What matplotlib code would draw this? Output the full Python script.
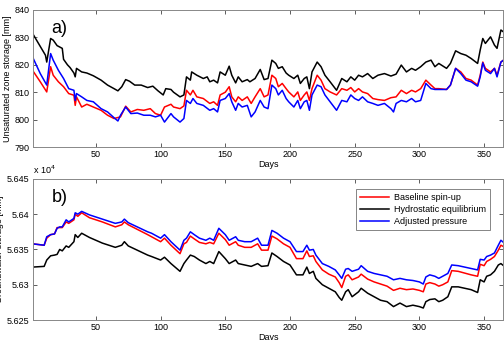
import matplotlib
matplotlib.use("Agg")
import matplotlib.pyplot as plt

plt.rcParams["font.family"] = ["Liberation Sans", "DejaVu Sans"]

# ---- panel a) unsaturated zone storage [mm] ----
days_a_black = [1, 11, 12, 15, 17, 20, 24, 25, 28, 30, 33, 34, 35, 39, 43, 48, 54, 59, 64, 67,
                70, 73, 76, 80, 85, 90, 94, 98, 102, 104, 108, 110, 115, 118, 120, 123, 124, 128, 133, 136,
                138, 141, 144, 146, 150, 153, 155, 158, 160, 163, 167, 169, 173, 177, 180, 183, 186, 189, 191, 194,
                197, 199, 203, 206, 208, 211, 213, 215, 217, 221, 224, 227, 231, 236, 240, 244, 247, 250, 253, 256,
                260, 264, 268, 273, 278, 282, 286, 290, 294, 297, 301, 305, 309, 312, 315, 321, 324, 328, 332, 336,
                340, 345, 347, 349, 351, 355, 358, 360, 363, 365]
uz_black = [831.5, 823.5, 821, 829.6, 829, 827, 826, 822, 820, 819, 817, 815.6, 818.7, 817.4, 817, 816, 814.4, 812.6, 811.3, 810.5,
            812, 814.6, 814, 812.6, 812.6, 811.7, 812.2, 810.5, 809, 811.3, 811, 810, 808.3, 809, 815.6, 814.4, 817.4, 816.2, 815, 815.6,
            813.8, 814.4, 813.4, 817.4, 816.2, 819.5, 816.2, 813.4, 815.6, 813.8, 814.6, 813.8, 815, 818.3, 814.6, 815, 821.7, 820.5, 818.7, 819.3,
            817, 816.2, 815, 816.2, 813.2, 815, 815.6, 811.3, 817.4, 821, 819.3, 816.2, 813.8, 810.7, 815, 813.8, 815.6, 814.4, 816.2, 815.6,
            816.8, 815, 816.2, 816.8, 815.9, 816.6, 819.9, 817.4, 818.7, 818, 819.3, 821, 821.7, 819.3, 820.5, 818.7, 820.5, 825.1, 824.1, 823.5,
            822.3, 820.5, 825.4, 829.6, 827.8, 830.2, 827.2, 826, 832.7, 832]

days_a_red = [1, 7, 12, 15, 17, 21, 25, 29, 33, 34, 35, 39, 43, 48, 54, 59, 64, 69, 73, 77,
              82, 87, 92, 96, 100, 103, 108, 110, 115, 118, 120, 123, 125, 128, 133, 138, 141, 144, 146, 150,
              153, 155, 158, 160, 163, 167, 170, 173, 177, 180, 183, 186, 189, 191, 194, 197, 199, 203, 206, 208,
              211, 213, 215, 217, 221, 224, 227, 231, 236, 240, 244, 247, 250, 253, 256, 260, 264, 268, 273, 278,
              282, 286, 290, 294, 297, 301, 305, 309, 312, 315, 321, 324, 328, 332, 336, 340, 345, 347, 349, 351,
              355, 358, 360, 363, 365]
uz_red = [818, 813.8, 810.1, 819.3, 816.2, 813.8, 812, 809.5, 808.9, 805.2, 808.3, 804.6, 805.6, 804.6, 803.4, 801.6, 800.4, 801, 804.9, 802.8,
          803.7, 803.4, 804, 802.2, 801.6, 804.6, 805.6, 804.6, 804, 805, 810.7, 809, 810.7, 808.3, 807.7, 805.9, 806.5, 805.2, 809, 810,
          812, 808.3, 806.5, 808.3, 807, 808.3, 805.9, 808.3, 811.3, 808.3, 809, 816.2, 815, 812, 813.2, 811.3, 810.1, 808.3, 810.1, 807,
          809, 810.1, 807, 811.3, 816.2, 814.4, 811.3, 810.1, 809, 811.3, 810.7, 811.7, 810.1, 811.3, 810.1, 809.5, 807.7, 807.3, 807, 808,
          808.3, 810.7, 809.5, 810.7, 810.1, 811.3, 814.4, 812.6, 811.3, 811.3, 811, 812.6, 818.7, 817.4, 815, 814.4, 812.6, 816.2, 821, 818.7,
          817.4, 818.7, 816.2, 821, 821.7]

days_a_blue = [1, 7, 12, 15, 17, 21, 25, 29, 33, 34, 35, 39, 43, 48, 54, 59, 64, 67, 69, 73,
               77, 82, 87, 92, 96, 100, 103, 108, 110, 115, 118, 120, 123, 125, 128, 133, 138, 141, 144, 146,
               150, 153, 155, 158, 160, 163, 167, 170, 173, 177, 180, 183, 186, 189, 191, 194, 197, 199, 203, 206,
               208, 211, 213, 215, 217, 221, 224, 227, 231, 236, 240, 244, 247, 250, 253, 256, 260, 264, 268, 273,
               278, 280, 282, 286, 290, 294, 297, 301, 305, 309, 312, 315, 321, 324, 328, 332, 336, 340, 345, 347,
               349, 351, 355, 358, 360, 363, 365]
uz_blue = [822.9, 816.8, 812.6, 824.1, 821.7, 818, 815, 811.3, 810.7, 807, 809.5, 808.3, 807, 806.5, 804, 802.8, 800.7, 799.5, 801.6, 804.6,
           802.2, 802.4, 801.6, 801.6, 801, 801.6, 799.1, 802.2, 801, 799.1, 800.4, 807, 805.9, 807.7, 805.9, 805.2, 803.4, 804, 802.8, 807,
           807.7, 809.5, 806.5, 803.4, 805.9, 804.6, 805.2, 801, 802.8, 807, 804.6, 804, 812.6, 811.3, 809, 810.7, 807.7, 806.5, 804.6, 807,
           804, 806.5, 807, 803.4, 809, 812.6, 812, 809, 806.5, 803.4, 807, 806.5, 809, 807.7, 807, 808.3, 806.5, 805.9, 805.2, 805.9,
           804, 802.8, 805.9, 807, 806.5, 807.7, 806.5, 807, 813.2, 811.3, 811, 811, 811, 812.6, 818.7, 816.8, 814.4, 813.8, 812.2, 815.6,
           820.7, 818, 816.8, 818.7, 815.6, 821, 821.7]

# ---- panel b) groundwater storage [mm x 10^4] ----
days_b = [1, 10, 12, 15, 18, 20, 22, 24, 27, 29, 33, 34, 36, 39, 45, 55, 65, 70, 72, 75,
          90, 93, 100, 103, 108, 115, 118, 120, 123, 126, 130, 135, 138, 141, 145, 150, 153, 158, 160, 165,
          170, 175, 178, 183, 186, 190, 195, 200, 205, 210, 213, 215, 218, 220, 225, 230, 235, 238, 240, 243,
          245, 248, 253, 255, 260, 265, 270, 275, 280, 285, 290, 295, 300, 303, 305, 308, 312, 315, 318, 322,
          325, 330, 340, 345, 347, 350, 352, 355, 358, 361, 363, 365]
gw_black = [5.6325, 5.6326, 5.6335, 5.6341, 5.6342, 5.6343, 5.6350, 5.6348, 5.6355, 5.6353,
            5.6361, 5.6371, 5.6367, 5.6373, 5.6367, 5.6359, 5.6353, 5.6356, 5.6361, 5.6355,
            5.6342, 5.6340, 5.6335, 5.6339, 5.6330, 5.6319, 5.6330, 5.6335, 5.6342, 5.6340,
            5.6335, 5.6330, 5.6333, 5.6330, 5.6347, 5.6337, 5.6330, 5.6335, 5.6330, 5.6328,
            5.6326, 5.6330, 5.6326, 5.6327, 5.6345, 5.6340, 5.6333, 5.6328, 5.6314, 5.6314,
            5.6325, 5.6316, 5.6319, 5.6309, 5.6300, 5.6295, 5.6290, 5.6282, 5.6278, 5.6290,
            5.6293, 5.6283, 5.6290, 5.6295, 5.6288, 5.6283, 5.6278, 5.6276, 5.6269, 5.6274,
            5.6269, 5.6271, 5.6269, 5.6267, 5.6276, 5.6279, 5.6280, 5.6276, 5.6278, 5.6283,
            5.6297, 5.6297, 5.6293, 5.6289, 5.6307, 5.6304, 5.6312, 5.6314, 5.6319, 5.6328,
            5.6330, 5.6327]
gw_red = [5.6358, 5.6356, 5.6366, 5.6371, 5.6372, 5.6381, 5.6381, 5.6381, 5.6389, 5.6387,
          5.6392, 5.6400, 5.6397, 5.6402, 5.6395, 5.6389, 5.6382, 5.6385, 5.6389, 5.6385,
          5.6371, 5.6368, 5.6361, 5.6366, 5.6356, 5.6344, 5.6358, 5.6360, 5.6369, 5.6365,
          5.6360, 5.6358, 5.6360, 5.6358, 5.6373, 5.6364, 5.6356, 5.6361, 5.6356, 5.6353,
          5.6353, 5.6358, 5.6349, 5.6349, 5.6369, 5.6365, 5.6358, 5.6353, 5.6337, 5.6337,
          5.6348, 5.6340, 5.6341, 5.6333, 5.6321, 5.6315, 5.6311, 5.6303, 5.6296, 5.6312,
          5.6314, 5.6307, 5.6311, 5.6315, 5.6308, 5.6304, 5.6301, 5.6298, 5.6292, 5.6295,
          5.6293, 5.6294, 5.6292, 5.6290, 5.6301, 5.6303, 5.6301, 5.6298, 5.6300, 5.6304,
          5.6320, 5.6319, 5.6314, 5.6312, 5.6329, 5.6327, 5.6333, 5.6336, 5.6340, 5.6349,
          5.6356, 5.6354]
gw_blue = [5.6358, 5.6356, 5.6368, 5.6371, 5.6372, 5.6380, 5.6382, 5.6382, 5.6392, 5.6389,
           5.6394, 5.6402, 5.6400, 5.6404, 5.6399, 5.6393, 5.6387, 5.6389, 5.6393, 5.6388,
           5.6375, 5.6373, 5.6366, 5.6371, 5.6361, 5.6349, 5.6363, 5.6366, 5.6375, 5.6371,
           5.6366, 5.6363, 5.6366, 5.6363, 5.6380, 5.6371, 5.6363, 5.6368, 5.6363, 5.6361,
           5.6361, 5.6366, 5.6356, 5.6356, 5.6377, 5.6373, 5.6366, 5.6361, 5.6347, 5.6347,
           5.6356, 5.6349, 5.6350, 5.6342, 5.6330, 5.6326, 5.6321, 5.6314, 5.6309, 5.6322,
           5.6323, 5.6319, 5.6322, 5.6327, 5.6319, 5.6316, 5.6314, 5.6312, 5.6307, 5.6309,
           5.6307, 5.6306, 5.6304, 5.6301, 5.6311, 5.6314, 5.6312, 5.6309, 5.6312, 5.6316,
           5.6328, 5.6327, 5.6323, 5.6321, 5.6336, 5.6335, 5.6340, 5.6342, 5.6345, 5.6356,
           5.6363, 5.6360]

x_ticks = [50, 100, 150, 200, 250, 300, 350]
uz_ticks = [790, 800, 810, 820, 830, 840]
gw_ticks = [5.625, 5.63, 5.635, 5.64, 5.645]
gw_ticklabels = ["5.625", "5.63", "5.635", "5.64", "5.645"]

fig = plt.figure(figsize=(5.04, 3.40), dpi=100)
ax1 = fig.add_axes([0.0645, 0.5676, 0.9345, 0.403])
ax2 = fig.add_axes([0.0645, 0.0588, 0.9345, 0.415])

lw = 1.1
ax1.plot(days_a_red, uz_red, color="red", lw=lw)
ax1.plot(days_a_black, uz_black, color="black", lw=lw)
ax1.plot(days_a_blue, uz_blue, color="blue", lw=lw)

ax2.plot(days_b, gw_red, color="red", lw=lw, label="Baseline spin-up")
ax2.plot(days_b, gw_black, color="black", lw=lw, label="Hydrostatic equilibrium")
ax2.plot(days_b, gw_blue, color="blue", lw=lw, label="Adjusted pressure")

for ax in (ax1, ax2):
    ax.set_xlim(1, 365)
    ax.set_xticks(x_ticks)
    ax.tick_params(direction="in", top=True, right=True, labelsize=6.5, length=3,
                   width=0.6, colors="#444444", labelcolor="black", pad=2)
    for sp in ax.spines.values():
        sp.set_color("#888888")
        sp.set_linewidth(0.7)
    ax.set_xlabel("Days", fontsize=6.5, labelpad=1)

ax1.set_ylim(790, 840)
ax1.set_yticks(uz_ticks)
ax1.set_ylabel("Unsaturated zone storage [mm]", fontsize=6.5, labelpad=2)
ax1.text(0.04, 0.93, "a)", transform=ax1.transAxes, fontsize=13, va="top", ha="left")

ax2.set_ylim(5.625, 5.645)
ax2.set_yticks(gw_ticks)
ax2.set_yticklabels(gw_ticklabels)
ax2.set_ylabel("Groundwater storage [mm]", fontsize=6.5, labelpad=2)
ax2.text(0.04, 0.93, "b)", transform=ax2.transAxes, fontsize=13, va="top", ha="left")
ax2.text(0.0, 1.02, "x 10$^{4}$", transform=ax2.transAxes, fontsize=6.5, va="bottom", ha="left")

leg = ax2.legend(loc="upper right", bbox_to_anchor=(0.98, 0.96), fontsize=6.5,
                 frameon=True, fancybox=False, handlelength=3.2, borderpad=0.4,
                 labelspacing=0.35, handletextpad=0.6)
leg.get_frame().set_edgecolor("#666666")
leg.get_frame().set_linewidth(0.7)

fig.savefig("out.png", dpi=100)
